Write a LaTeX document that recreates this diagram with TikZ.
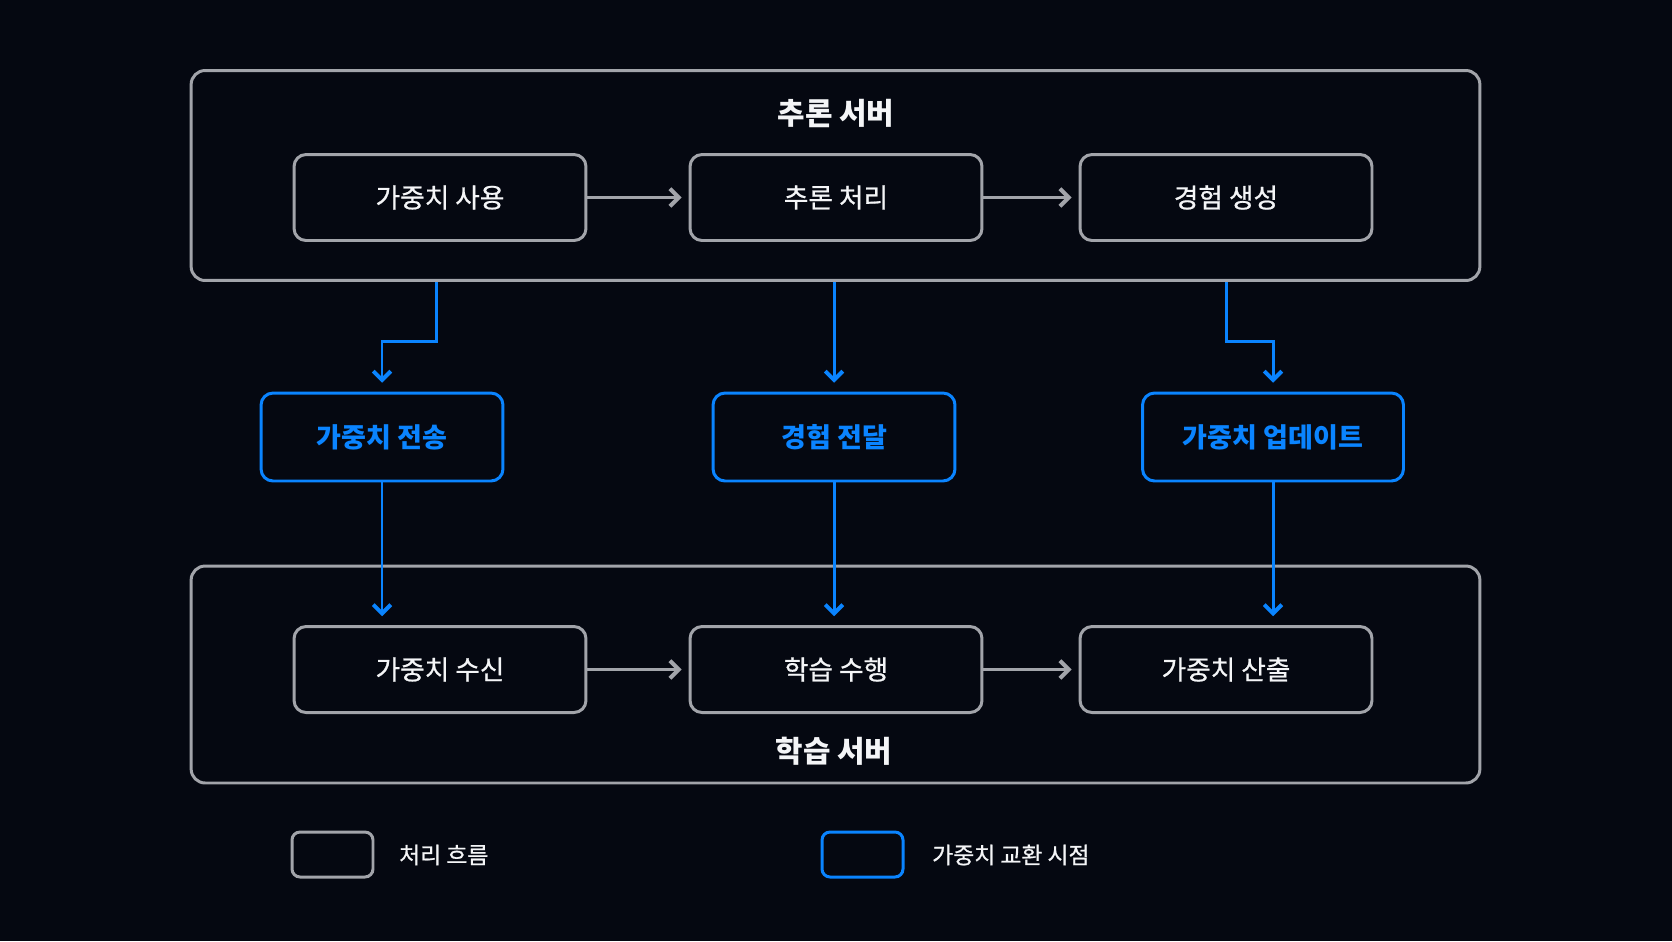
\documentclass[tikz,border=0pt]{standalone}
\usepackage{fontspec}
\setmainfont{Noto Sans CJK KR}
\newfontfamily\medfont[FakeBold=0.8]{Noto Sans CJK KR}
\usepackage{xcolor}
\usepackage{tikz}
\usetikzlibrary{calc,arrows.meta}
\definecolor{bg}{HTML}{050811}
\definecolor{line}{HTML}{A2A4AA}
\definecolor{text}{HTML}{F4F5F7}
\definecolor{xblue}{HTML}{0A84FF}
\tikzset{
  server/.style={draw=line, line width=1.7pt, rounded corners=0.28cm, minimum width=25.78cm, minimum height=4.2cm},
  proc/.style={draw=line, line width=1.7pt, rounded corners=0.24cm, fill=bg, text=text, font=\medfont\fontsize{15.2}{17}\selectfont, minimum width=5.84cm, minimum height=1.72cm},
  xchg/.style={draw=xblue, line width=1.7pt, rounded corners=0.24cm, fill=bg, text=xblue, font=\bfseries\fontsize{15.4}{17}\selectfont, minimum width=4.84cm, minimum height=1.76cm},
  title/.style={text=text, font=\bfseries\fontsize{17}{19}\selectfont},
  flow/.style={draw=line, line width=1.7pt, -{Straight Barb[length=5pt,width=10pt,line width=2.3pt]}, shorten >=4pt},
  xarr/.style={draw=xblue, line width=1.7pt, -{Straight Barb[length=5pt,width=10pt,line width=2.3pt]}, shorten >=5pt},
  keybox/.style={line width=1.7pt, rounded corners=0.16cm, minimum width=1.62cm, minimum height=0.9cm},
  keylab/.style={text=text, font=\medfont\fontsize{13}{15}\selectfont, anchor=west}
}
\begin{document}
\begin{tikzpicture}[x=0.02cm, y=-0.02cm]
  \fill[bg] (0,0) rectangle (1672,941);

  % servers
  \node[server] (infer) at (835.5,175.5) {};
  \node[server, minimum height=4.34cm] (learn) at (835.5,674.5) {};
  \node[title] (tinfer) at (836,113) {추론 서버};
  \node[title] (tlearn) at (834,751) {학습 서버};

  % inference steps
  \node[proc] (use)  at (440,197.5)  {가중치 사용};
  \node[proc] (run)  at (836,197.5)  {추론 처리};
  \node[proc] (gen)  at (1226,197.5) {경험 생성};
  \draw[flow] (use.east) -- (run.west);
  \draw[flow] (run.east) -- (gen.west);

  % training steps
  \node[proc] (recv)  at (440,669.5)  {가중치 수신};
  \node[proc] (train) at (836,669.5)  {학습 수행};
  \node[proc] (calc)  at (1226,669.5) {가중치 산출};
  \draw[flow] (recv.east) -- (train.west);
  \draw[flow] (train.east) -- (calc.west);

  % exchange points
  \node[xchg] (send) at (382,437)  {가중치 전송};
  \node[xchg] (pass) at (834,437)  {경험 전달};
  \node[xchg, minimum width=5.22cm] (upd) at (1273,437) {가중치 업데이트};

  \draw[xarr] ([xshift=-0.08cm]infer.south -| use) -- ++(0,60) -| (send.north);
  \draw[xarr] (infer.south -| pass) -- (pass.north);
  \draw[xarr] (infer.south -| gen) -- ++(0,60) -| (upd.north);
  \draw[xarr] (send.south) -- (send.south |- recv.north);
  \draw[xarr] (pass.south) -- (pass.south |- train.north);
  \draw[xarr] (upd.south) -- (upd.south |- calc.north);

  % legend
  \node[keybox, draw=line] (kflow) at (332.5,854.5) {};
  \node[keylab] (lflow) at (393,855) {처리 흐름};
  \node[keybox, draw=xblue] (kxchg) at (862.5,854.5) {};
  \node[keylab] (lxchg) at (926,855) {가중치 교환 시점};
\end{tikzpicture}
\end{document}
